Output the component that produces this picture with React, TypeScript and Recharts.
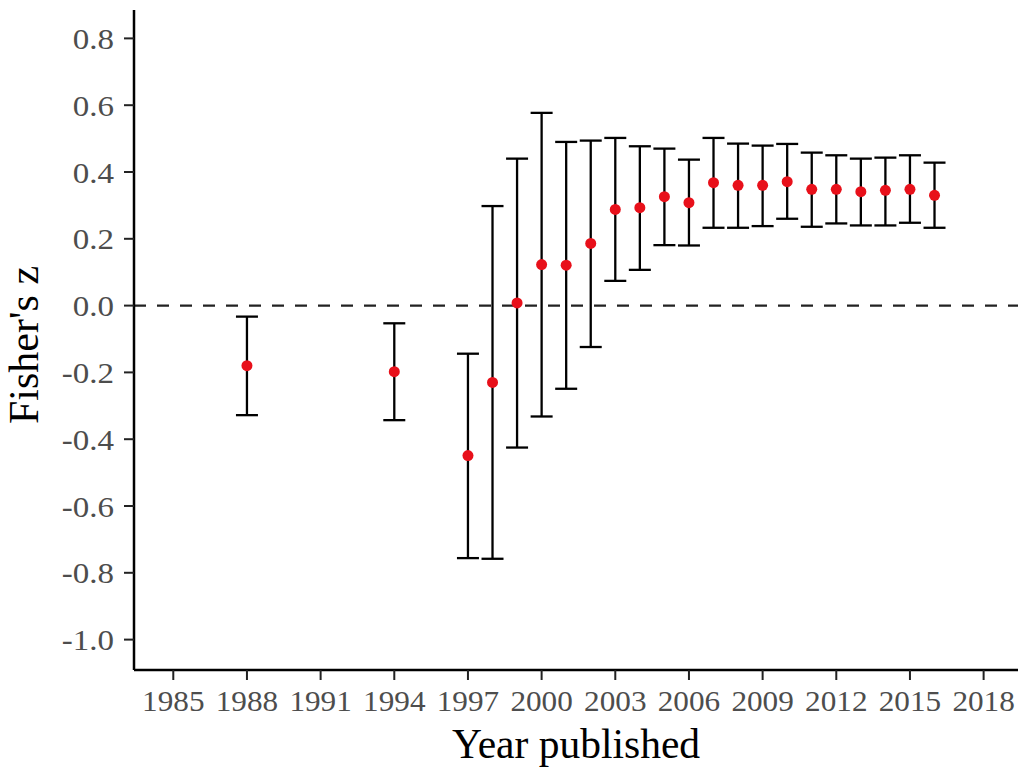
import React from 'react';
import {
  ComposedChart,
  Scatter,
  ErrorBar,
  XAxis,
  YAxis,
  ReferenceLine,
  Label,
} from 'recharts';

// ============================================
// DATA
// ============================================

const years = [
  1988, 1994, 1997, 1998, 1999, 2000, 2001, 2002, 2003, 2004, 2005, 2006, 2007, 2008,
  2009, 2010, 2011, 2012, 2013, 2014, 2015, 2016,
];

const fisherZ = [
  -0.18, -0.198, -0.449, -0.23, 0.008, 0.123, 0.121, 0.186, 0.288, 0.293, 0.326, 0.308,
  0.368, 0.36, 0.36, 0.371, 0.348, 0.348, 0.341, 0.345, 0.348, 0.33,
];

const ciLower = [
  -0.328, -0.343, -0.756, -0.758, -0.425, -0.332, -0.249, -0.124, 0.074, 0.107, 0.181,
  0.18, 0.233, 0.233, 0.238, 0.26, 0.236, 0.246, 0.24, 0.24, 0.248, 0.233,
];

const ciUpper = [
  -0.033, -0.053, -0.144, 0.298, 0.44, 0.577, 0.49, 0.494, 0.502, 0.477, 0.47, 0.437,
  0.502, 0.485, 0.479, 0.484, 0.458, 0.45, 0.44, 0.443, 0.45, 0.428,
];

const xTicks = [1985, 1988, 1991, 1994, 1997, 2000, 2003, 2006, 2009, 2012, 2015, 2018];
const yTicks = [-1.0, -0.8, -0.6, -0.4, -0.2, 0.0, 0.2, 0.4, 0.6, 0.8];

const chartData = years.map((year, i) => ({
  year,
  z: fisherZ[i],
  err: [fisherZ[i] - ciLower[i], ciUpper[i] - fisherZ[i]],
}));

const FONT = '"Liberation Serif", "Times New Roman", serif';

// ============================================
// CUSTOM TICKS
// ============================================

const XTick = ({ x, y, payload }: any) => (
  <g transform={`translate(${x},${y})`}>
    <text
      transform="scale(1.04,1)"
      textAnchor="middle"
      y={31}
      fontFamily={FONT}
      fontSize={30}
      fill="#4d4d4d"
    >
      {payload.value}
    </text>
  </g>
);

const YTick = ({ x, y, payload }: any) => (
  <g transform={`translate(${x},${y})`}>
    <text
      transform="scale(1.1,1)"
      textAnchor="end"
      dy="0.35em"
      fontFamily={FONT}
      fontSize={30}
      fill="#4d4d4d"
    >
      {Number(payload.value).toFixed(1)}
    </text>
  </g>
);

const Dot = ({ cx, cy }: any) => <circle cx={cx} cy={cy} r={5.5} fill="#e8101a" />;

// ============================================
// MAIN COMPONENT
// ============================================

export default function App() {
  return (
    <div style={{ position: 'absolute', left: 0, top: 0, background: '#fff' }}>
      <ComposedChart
        width={1018}
        height={770}
        data={chartData}
        margin={{ top: 10, right: 0, bottom: 0, left: 0 }}
      >
        <XAxis
          dataKey="year"
          type="number"
          domain={[1983.4, 2019.4]}
          ticks={xTicks}
          allowDataOverflow
          height={100}
          tickSize={10}
          tickMargin={0}
          tick={<XTick />}
          axisLine={{ stroke: '#000', strokeWidth: 2.5 }}
          tickLine={{ stroke: '#222', strokeWidth: 2 }}
        >
          <Label
            value="Year published"
            position="insideBottom"
            offset={12}
            style={{ fontFamily: FONT, fontSize: 41.5, fill: '#000' }}
          />
        </XAxis>
        <YAxis
          type="number"
          domain={[-1.091, 0.885]}
          ticks={yTicks}
          allowDataOverflow
          width={134}
          tickSize={10}
          tickMargin={10}
          tick={<YTick />}
          axisLine={{ stroke: '#000', strokeWidth: 2.5 }}
          tickLine={{ stroke: '#222', strokeWidth: 2 }}
        >
          <Label
            value="Fisher's z"
            angle={-90}
            position="insideLeft"
            offset={23}
            dy={5}
            style={{ fontFamily: FONT, fontSize: 42, fill: '#000', textAnchor: 'middle' }}
          />
        </YAxis>

        <ReferenceLine y={0} stroke="#222" strokeWidth={2.2} strokeDasharray="12 11" />

        <Scatter dataKey="z" shape={<Dot />} isAnimationActive={false}>
          <ErrorBar
            dataKey="err"
            direction="y"
            width={11}
            stroke="#000"
            strokeWidth={2.3}
            isAnimationActive={false}
          />
        </Scatter>
      </ComposedChart>
    </div>
  );
}
